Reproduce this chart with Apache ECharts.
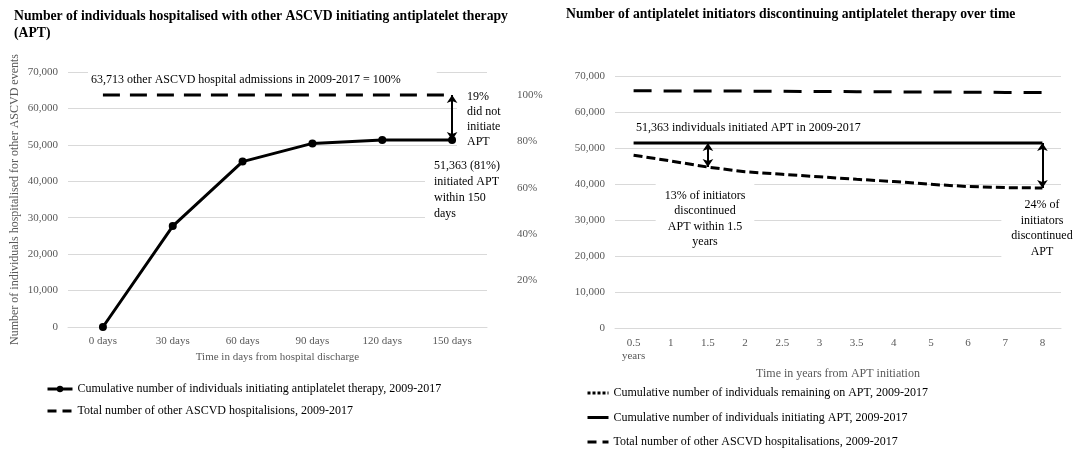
<!DOCTYPE html>
<html>
<head>
<meta charset="utf-8">
<title>Antiplatelet therapy after ASCVD hospitalisation</title>
<script src="https://cdn.jsdelivr.net/npm/echarts@6/dist/echarts.min.js"></script>
<style>
  body { margin: 0; background: #ffffff; }
  #main { width: 1077px; height: 450px; }
</style>
</head>
<body>
<div id="main"></div>
<script>
  // left panel: days from discharge
  var dayCategories = ['0 days', '30 days', '60 days', '90 days', '120 days', '150 days'];
  var initiatingApt = [0, 27700, 45400, 50400, 51300, 51363];
  var admissionsLeft = [63713, 63713, 63713, 63713, 63713, 63713];
  var percentTicks = [20, 40, 60, 80, 100];

  // right panel: years from initiation
  var yearCategories = ['0.5\nyears', '1', '1.5', '2', '2.5', '3', '3.5', '4', '5', '6', '7', '8'];
  var remainingOnApt = [48000, 46400, 44700, 43400, 42700, 42000, 41300, 40700, 39900, 39300, 39000, 38900];
  var initiatedApt = [51363, 51363, 51363, 51363, 51363, 51363, 51363, 51363, 51363, 51363, 51363, 51363];
  var admissionsRight = [65900, 65850, 65800, 65800, 65750, 65700, 65650, 65600, 65550, 65500, 65450, 65400];

  var FONT = '"Liberation Serif", "Times New Roman", serif';
  var GREY = '#595959';
  var GRID = '#d9d9d9';

  var nameInitLeft = 'Cumulative number of individuals initiating antiplatelet therapy, 2009-2017';
  var nameTotalLeft = 'Total number of other ASCVD hospitalisions, 2009-2017';
  var nameRemain = 'Cumulative number of individuals remaining on APT, 2009-2017';
  var nameInitRight = 'Cumulative number of individuals initiating APT, 2009-2017';
  var nameTotalRight = 'Total number of other ASCVD hospitalisations, 2009-2017';

  var noSymbol = { opacity: 0 };

  function thousands(v) {
    return Number(v).toLocaleString('en-US');
  }

  function countAxis(gridIndex, name) {
    return {
      gridIndex: gridIndex,
      type: 'value',
      min: 0,
      max: 70000,
      interval: 10000,
      axisLine: { show: false },
      axisTick: { show: false },
      axisLabel: { color: GREY, fontSize: 11, fontFamily: FONT, margin: 10, formatter: thousands },
      splitLine: { lineStyle: { color: GRID, width: 1 } },
      name: name,
      nameLocation: 'middle',
      nameGap: 47,
      nameTextStyle: { color: GREY, fontSize: 12, fontFamily: FONT }
    };
  }

  var arrowLine = {
    silent: true,
    symbol: ['arrow', 'arrow'],
    symbolSize: 8,
    label: { show: false },
    lineStyle: { type: 'solid', color: '#000', width: 2 },
    emphasis: { disabled: true }
  };

  function note(x, y, text, opts) {
    var style = {
      text: text,
      fontFamily: FONT,
      fontSize: 12,
      fill: '#000',
      align: 'left',
      verticalAlign: 'top'
    };
    for (var k in opts) style[k] = opts[k];
    return { type: 'text', x: x, y: y, z: 1, silent: true, style: style };
  }

  var chart = echarts.init(document.getElementById('main'));

  var option = {
    animation: false,
    backgroundColor: '#ffffff',
    title: [
      {
        text: 'Number of individuals hospitalised with other ASCVD initiating antiplatelet therapy\n(APT)',
        left: 14, top: 8, padding: 0,
        textStyle: { fontFamily: FONT, fontSize: 13.7, fontWeight: 'bold', color: '#000', lineHeight: 17 }
      },
      {
        text: 'Number of antiplatelet initiators discontinuing antiplatelet therapy over time',
        left: 566, top: 7, padding: 0,
        textStyle: { fontFamily: FONT, fontSize: 13.7, fontWeight: 'bold', color: '#000' }
      }
    ],
    legend: [
      {
        orient: 'vertical', left: 46, top: 383, padding: 0,
        itemWidth: 25, itemHeight: 8, itemGap: 10, selectedMode: false,
        lineStyle: { width: 3 },
        textStyle: { fontFamily: FONT, fontSize: 12, color: '#000' },
        data: [
          { name: nameInitLeft },
          { name: nameTotalLeft, itemStyle: noSymbol, lineStyle: { type: [9, 6] } }
        ]
      },
      {
        orient: 'vertical', left: 586, top: 387, padding: 0,
        itemWidth: 21, itemHeight: 8, itemGap: 12.5, selectedMode: false,
        lineStyle: { width: 3 },
        textStyle: { fontFamily: FONT, fontSize: 12, color: '#000' },
        data: [
          { name: nameRemain, itemStyle: noSymbol, lineStyle: { type: [3, 2] } },
          { name: nameInitRight, itemStyle: noSymbol },
          { name: nameTotalRight, itemStyle: noSymbol, lineStyle: { type: [9, 6] } }
        ]
      }
    ],
    grid: [
      { left: 68, top: 72, width: 419, height: 255 },
      { left: 615, top: 76, width: 446, height: 252 }
    ],
    xAxis: [
      {
        gridIndex: 0, type: 'category', data: dayCategories, boundaryGap: true,
        axisTick: { show: false },
        axisLine: { lineStyle: { color: GRID } },
        axisLabel: { color: GREY, fontSize: 11, fontFamily: FONT, margin: 9 },
        name: 'Time in days from hospital discharge', nameLocation: 'middle', nameGap: 23,
        nameTextStyle: { color: GREY, fontSize: 11, fontFamily: FONT }
      },
      {
        gridIndex: 1, type: 'category', data: yearCategories, boundaryGap: true,
        axisTick: { show: false },
        axisLine: { lineStyle: { color: GRID } },
        axisLabel: { color: GREY, fontSize: 11, fontFamily: FONT, margin: 9, lineHeight: 13, interval: 0 },
        name: 'Time in years from APT initiation', nameLocation: 'middle', nameGap: 38,
        nameTextStyle: { color: GREY, fontSize: 12, fontFamily: FONT }
      }
    ],
    yAxis: [
      countAxis(0, 'Number of individuals hospitalised for other ASCVD events'),
      {
        gridIndex: 0, type: 'value', position: 'right',
        min: 0, max: 70000 / admissionsLeft[0] * 100, interval: 20,
        axisLine: { show: false }, axisTick: { show: false }, splitLine: { show: false },
        axisLabel: {
          color: GREY, fontSize: 11, fontFamily: FONT, margin: 30,
          formatter: function (v) {
            return percentTicks.indexOf(Math.round(v)) >= 0 && Math.abs(v - Math.round(v)) < 1e-6 ? Math.round(v) + '%' : '';
          }
        }
      },
      countAxis(1, '')
    ],
    series: [
      {
        name: nameInitLeft, type: 'line', xAxisIndex: 0, yAxisIndex: 0,
        data: initiatingApt, symbol: 'circle', symbolSize: 8, z: 3,
        lineStyle: { color: '#000', width: 3 }, itemStyle: { color: '#000' }
      },
      {
        name: nameTotalLeft, type: 'line', xAxisIndex: 0, yAxisIndex: 0,
        data: admissionsLeft, showSymbol: false, symbol: 'none',
        lineStyle: { color: '#000', width: 3, type: [17, 10] }, itemStyle: { color: '#000' },
        markLine: Object.assign({}, arrowLine, {
          data: [[
            { coord: [dayCategories[5], admissionsLeft[5]] },
            { coord: [dayCategories[5], initiatingApt[5]] }
          ]]
        })
      },
      {
        name: nameRemain, type: 'line', xAxisIndex: 1, yAxisIndex: 2,
        data: remainingOnApt, showSymbol: false, symbol: 'none',
        lineStyle: { color: '#000', width: 3, type: [9, 4] }, itemStyle: { color: '#000' },
        markLine: Object.assign({}, arrowLine, {
          data: [
            [
              { coord: [yearCategories[2], initiatedApt[2]] },
              { coord: [yearCategories[2], remainingOnApt[2]] }
            ],
            [
              { coord: [yearCategories[11], initiatedApt[11]] },
              { coord: [yearCategories[11], remainingOnApt[11]] }
            ]
          ]
        })
      },
      {
        name: nameInitRight, type: 'line', xAxisIndex: 1, yAxisIndex: 2,
        data: initiatedApt, showSymbol: false, symbol: 'none',
        lineStyle: { color: '#000', width: 3 }, itemStyle: { color: '#000' }
      },
      {
        name: nameTotalRight, type: 'line', xAxisIndex: 1, yAxisIndex: 2,
        data: admissionsRight, showSymbol: false, symbol: 'none',
        lineStyle: { color: '#000', width: 3, type: [18, 12] }, itemStyle: { color: '#000' }
      }
    ],
    graphic: [
      note(88, 80, '63,713 other ASCVD hospital admissions in 2009-2017 = 100%',
        { verticalAlign: 'middle', backgroundColor: '#fff', padding: [4, 36, 4, 3] }),
      note(457, 87.5, '19%\ndid not\ninitiate\nAPT',
        { lineHeight: 15, backgroundColor: '#fff', padding: [2, 0, 2, 10] }),
      note(425, 156, '51,363 (81%)\ninitiated APT\nwithin 150\ndays',
        { lineHeight: 16, backgroundColor: '#fff', padding: [2, 2, 2, 9] }),
      note(636, 128, '51,363 individuals initiated APT in 2009-2017',
        { verticalAlign: 'middle' }),
      note(705, 182, '13% of initiators\ndiscontinued\nAPT within 1.5\nyears',
        { align: 'center', lineHeight: 15.5, backgroundColor: '#fff', padding: [6, 9, 2, 9] }),
      note(1042, 195, '24% of\ninitiators\ndiscontinued\nAPT',
        { align: 'center', lineHeight: 15.7, backgroundColor: '#fff', padding: [2, 10, 2, 10] })
    ]
  };

  chart.setOption(option);
</script>
</body>
</html>
